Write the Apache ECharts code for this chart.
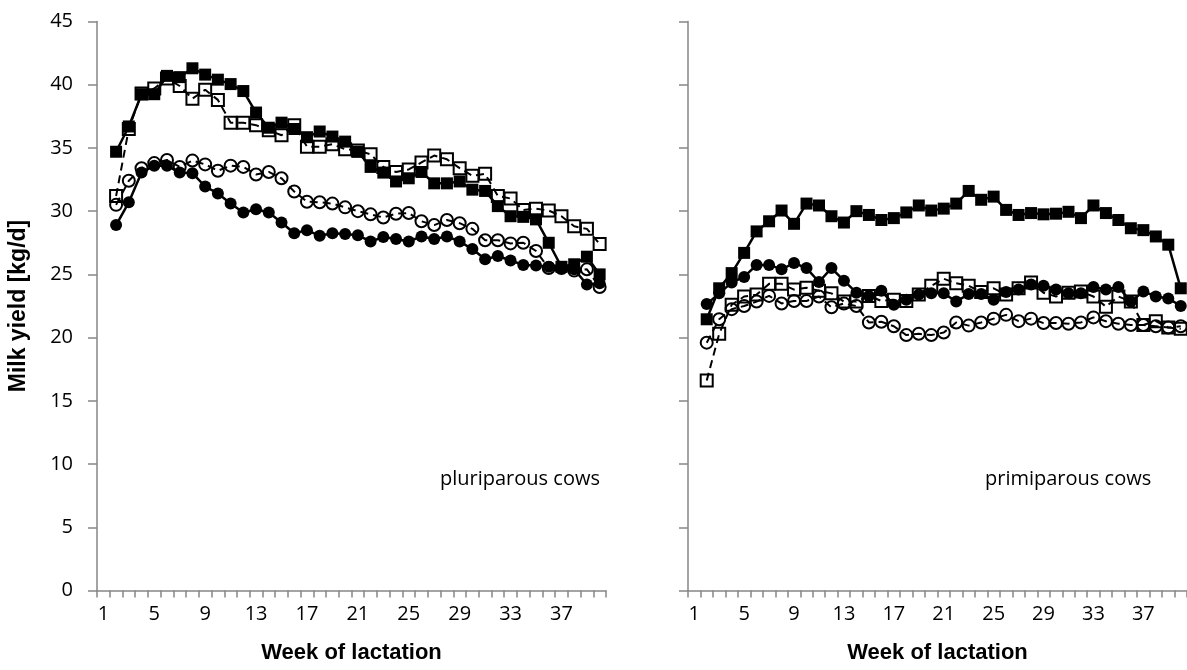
<!DOCTYPE html>
<html>
<head>
<meta charset="utf-8">
<script src="https://cdn.jsdelivr.net/npm/echarts@6/dist/echarts.min.js"></script>
<style>html,body{margin:0;padding:0;background:#fff}#c{width:1187px;height:670px}</style>
</head>
<body>
<div id="c"></div>
<script>
// Weeks of lactation (category axis) and tick labels
const weeks = Array.from({length: 40}, (_, i) => String(i + 1));
const yTicks = [0, 5, 10, 15, 20, 25, 30, 35, 40, 45];
const dataStartWeek = 2;

// Pluriparous cows, weeks 2..40
const pluriFilledSquare = [34.7,36.7,39.25,39.25,40.7,40.6,41.3,40.8,40.4,40.05,39.5,37.8,36.6,37.0,36.5,35.85,36.3,35.9,35.5,34.7,33.5,33.05,32.35,32.6,33.1,32.2,32.2,32.35,31.7,31.6,30.4,29.6,29.55,29.35,27.5,25.6,25.8,26.4,25.0];
const pluriOpenSquare = [31.2,36.5,39.3,39.7,40.5,39.9,38.9,39.6,38.8,37.0,37.0,36.8,36.4,36.0,36.8,35.1,35.1,35.3,34.9,34.8,34.5,33.5,33.1,33.3,33.85,34.4,34.1,33.4,32.8,32.95,31.2,31.0,30.1,30.2,30.05,29.6,28.8,28.6,27.4];
const pluriFilledCircle = [28.9,30.7,33.05,33.6,33.6,33.05,33.0,31.95,31.4,30.6,29.9,30.15,29.9,29.1,28.25,28.5,28.05,28.25,28.2,28.1,27.6,27.95,27.8,27.6,28.0,27.8,28.0,27.6,27.0,26.2,26.45,26.1,25.75,25.7,25.6,25.5,25.4,24.2,24.3];
const pluriOpenCircle = [30.5,32.4,33.4,33.8,34.05,33.5,34.0,33.7,33.2,33.6,33.5,32.9,33.1,32.6,31.55,30.75,30.7,30.6,30.3,30.0,29.75,29.5,29.8,29.85,29.2,28.9,29.3,29.05,28.6,27.7,27.7,27.45,27.5,26.85,25.5,25.5,25.3,25.4,24.0];

// Primiparous cows, weeks 2..40
const primiFilledSquare = [21.45,23.9,25.1,26.7,28.4,29.2,30.05,29.0,30.6,30.45,29.6,29.1,30.0,29.7,29.3,29.45,29.9,30.45,30.05,30.2,30.6,31.6,30.9,31.15,30.1,29.7,29.85,29.75,29.8,29.95,29.45,30.45,29.85,29.3,28.65,28.5,28.0,27.35,23.9];
const primiOpenSquare = [16.6,20.3,22.6,23.25,23.4,24.25,24.25,23.8,23.95,23.7,23.5,22.85,22.85,23.3,22.9,23.0,22.9,23.4,24.1,24.65,24.3,24.1,23.6,23.9,23.4,23.9,24.35,23.55,23.25,23.55,23.65,23.25,22.45,23.25,22.85,21.0,21.3,20.8,20.7];
const primiFilledCircle = [22.65,23.5,24.35,24.8,25.75,25.75,25.4,25.9,25.5,24.4,25.5,24.5,23.55,23.3,23.7,22.6,23.0,23.4,23.5,23.5,22.85,23.45,23.45,23.0,23.6,23.8,24.2,24.1,23.8,23.5,23.5,24.0,23.8,24.0,22.85,23.65,23.25,23.1,22.5];
const primiOpenCircle = [19.6,21.45,22.25,22.5,22.85,23.3,22.7,22.9,22.9,23.25,22.4,22.7,22.5,21.2,21.25,20.9,20.2,20.3,20.2,20.4,21.2,20.95,21.2,21.5,21.8,21.3,21.5,21.15,21.15,21.1,21.2,21.6,21.3,21.1,21.0,21.0,20.9,20.8,20.9];

const panelLabels = ['pluriparous cows', 'primiparous cows'];
const xTitle = 'Week of lactation';
const yTitle = 'Milk yield [kg/d]';

const pad = arr => Array(dataStartWeek - 1).fill(null).concat(arr);
const AX = '#868686';
const TICK_FONT = "'Open Sans', sans-serif";
const BOLD_FONT = "'Liberation Sans', Arial, sans-serif";

function xAxis(gi) {
  return {
    type: 'category', gridIndex: gi, data: weeks, boundaryGap: true,
    axisLine: {lineStyle: {color: AX, width: 1.5}},
    axisTick: {show: true, interval: 0, length: 7, lineStyle: {color: AX, width: 1.5}},
    axisLabel: {interval: 3, color: '#000', fontSize: 20, fontFamily: TICK_FONT, margin: 14},
    name: xTitle, nameLocation: 'middle', nameGap: 51,
    nameTextStyle: {fontFamily: BOLD_FONT, fontWeight: 'bold', fontSize: 22, color: '#000'}
  };
}
function yAxis(gi, showLabels) {
  const a = {
    type: 'value', gridIndex: gi, min: yTicks[0], max: yTicks[yTicks.length - 1], interval: 5,
    splitLine: {show: false},
    axisLine: {show: true, lineStyle: {color: AX, width: 1.5}},
    axisTick: {show: true, length: 9, lineStyle: {color: AX, width: 1.5}},
    axisLabel: {show: showLabels, color: '#000', fontSize: 20, fontFamily: TICK_FONT, margin: 24}
  };
  if (showLabels) {
    a.name = yTitle; a.nameLocation = 'middle'; a.nameGap = 67;
    a.nameTextStyle = {fontFamily: BOLD_FONT, fontWeight: 'bold', fontSize: 23, color: '#000'};
  }
  return a;
}
function ser(gi, arr, symbol, filled, dashed) {
  return {
    type: 'line', xAxisIndex: gi, yAxisIndex: gi, data: pad(arr),
    symbol: symbol, symbolSize: 12, showSymbol: true, showAllSymbol: true,
    connectNulls: false, animation: false,
    lineStyle: {color: '#000', width: filled ? 2.5 : 2, type: dashed ? [8, 5] : 'solid'},
    itemStyle: {color: filled ? '#000' : 'rgba(0,0,0,0)', borderColor: '#000', borderWidth: filled ? 0 : 2},
    z: filled ? 3 : 2
  };
}

const chart = echarts.init(document.getElementById('c'), null, {renderer: 'canvas'});
chart.setOption({
  backgroundColor: '#fff',
  animation: false,
  grid: [
    {left: 97, top: 21.5, width: 509, height: 569},
    {left: 688, top: 21.5, width: 503, height: 569}
  ],
  xAxis: [xAxis(0), xAxis(1)],
  yAxis: [yAxis(0, true), yAxis(1, false)],
  series: [
    ser(0, pluriOpenCircle, 'circle', false, true),
    ser(0, pluriFilledCircle, 'circle', true, false),
    ser(0, pluriOpenSquare, 'rect', false, true),
    ser(0, pluriFilledSquare, 'rect', true, false),
    ser(1, primiOpenCircle, 'circle', false, true),
    ser(1, primiFilledCircle, 'circle', true, false),
    ser(1, primiOpenSquare, 'rect', false, true),
    ser(1, primiFilledSquare, 'rect', true, false)
  ],
  graphic: [
    {type: 'text', left: 440, top: 469, style: {text: panelLabels[0], fontSize: 20, fontFamily: TICK_FONT, fill: '#000'}},
    {type: 'text', left: 985, top: 469, style: {text: panelLabels[1], fontSize: 20, fontFamily: TICK_FONT, fill: '#000'}}
  ]
});
</script>
</body>
</html>
